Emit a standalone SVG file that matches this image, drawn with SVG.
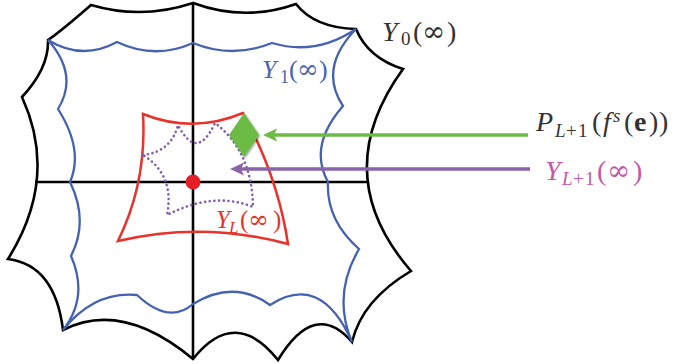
<svg xmlns="http://www.w3.org/2000/svg" width="676" height="364" viewBox="0 0 676 364">
<defs>
<style>
.outline{fill:none;stroke-linejoin:miter;stroke-linecap:round}
.y0{stroke:#000;stroke-width:2.6}
.y1{stroke:#4562b0;stroke-width:2.3}
.yl{stroke:#e8322b;stroke-width:2.5}
.ylp{stroke:#7f5cae;stroke-width:2.6;stroke-dasharray:0.1 4.6;stroke-linecap:round}
.axis{stroke:#000;stroke-width:2.6;fill:none}
.lbl{font-family:"Liberation Serif","DejaVu Serif",serif;font-size:28px}
.it{font-style:italic}
.inf{font-family:"DejaVu Serif","Liberation Serif",serif}
.arrow{fill:none;stroke-width:3.5}
</style>
<marker id="ahG" markerUnits="userSpaceOnUse" markerWidth="16" markerHeight="14" refX="7" refY="6.5" orient="auto" overflow="visible">
<path d="M0,0 L14,6.5 L0,13 L3,6.5 Z" fill="#6cbb45"/>
</marker>
<marker id="ahP" markerUnits="userSpaceOnUse" markerWidth="16" markerHeight="14" refX="7" refY="6.5" orient="auto" overflow="visible">
<path d="M0,0 L14,6.5 L0,13 L3,6.5 Z" fill="#8b63ad"/>
</marker>
<filter id="sh" x="-30%" y="-30%" width="160%" height="160%">
<feGaussianBlur in="SourceAlpha" stdDeviation="1.2"/>
<feOffset dx="0.5" dy="0.8" result="b"/>
<feComponentTransfer><feFuncA type="linear" slope="0.45"/></feComponentTransfer>
<feMerge><feMergeNode/><feMergeNode in="SourceGraphic"/></feMerge>
</filter>
</defs>
<rect width="676" height="364" fill="#fff"/>

<g id="axes">
<line class="axis" x1="35" y1="182" x2="368" y2="182"/>
<line class="axis" x1="193" y1="3" x2="193" y2="359"/>
</g>

<g id="Y0">
<path class="outline y0" d="M91,5 Q142,20 193,3 Q245,22 296,4 Q315,28 356,29 Q368,58 403,69 Q327,174 411,271 Q362,300 352,342 Q315,299 278,360 Q235,306 193,359 Q122,300 63,330 Q55,265 8,259 Q59,178 22,97 Q49,68 48,40 Q60,32 91,5 Z"/>
</g>

<g id="Y1">
<path class="outline y1" d="M48,40 Q82,61 117,42 Q155,60 193,43 Q232,59 272,43 Q316,56 356,29 Q318,68 343,106 Q308,146 328,182 Q326,220 359,249 Q332,295 352,342 Q321,272 270,305 Q234,279 193,304 Q169,325 137,295 Q94,291 63,330 Q89,297 71,256 Q89,221 70,182 Q84,150 58,109 Q79,75 48,40 Z"/>
</g>

<g id="YL">
<path class="outline yl" d="M143,114 Q193,134 243,113 Q278,177 288,244 Q203,221 118,241 Q147,182 143,114 Z"/>
</g>

<g id="YL1">
<path class="outline ylp" d="M143,155 Q171,152 178,125 Q197,162 215,123 Q252,151 253,207 Q214,191 167,215 Q175,175 143,155 Z"/>
</g>

<g id="P">
<path d="M244,113 L259,135 L244,157 L229,135 Z" fill="#6cbb45" filter="url(#sh)"/>
</g>

<g id="origin">
<circle cx="193" cy="182" r="7.5" fill="#e41f26"/>
</g>

<g id="connectors">
<line class="arrow" x1="528" y1="135" x2="270" y2="135" stroke="#6cbb45" marker-end="url(#ahG)"/>
<line class="arrow" x1="530" y1="169" x2="237" y2="169" stroke="#8b63ad" marker-end="url(#ahP)"/>
</g>

<g id="labels">
<text class="lbl" fill="#333" y="41"><tspan class="it" x="382">Y</tspan><tspan x="401" y="45" font-size="19">0</tspan><tspan x="413" y="41">(</tspan><tspan class="inf" x="422">∞</tspan><tspan x="447">)</tspan></text>
<text class="lbl" fill="#4a64ae" y="78"><tspan class="it" x="262" style="font-size:26px">Y</tspan><tspan x="280" y="83" style="font-size:18px">1</tspan><tspan x="289" y="78" style="font-size:26px">(</tspan><tspan class="inf" x="297" style="font-size:26px">∞</tspan><tspan x="319" style="font-size:26px">)</tspan></text>
<text class="lbl" fill="#e8332a" y="228"><tspan class="it" x="216" style="font-size:25px">Y</tspan><tspan class="it" x="229" y="233" style="font-size:17px">L</tspan><tspan x="240" y="228" style="font-size:25px">(</tspan><tspan class="inf" x="248" style="font-size:25px">∞</tspan><tspan x="273" style="font-size:25px">)</tspan></text>
<text class="lbl" fill="#333" y="131"><tspan class="it" x="536">P</tspan><tspan class="it" x="555" y="137" style="font-size:19px">L</tspan><tspan x="566" style="font-size:19px">+</tspan><tspan x="578" style="font-size:19px">1</tspan><tspan x="592" y="131">(</tspan><tspan class="it" x="603">f</tspan><tspan class="it" x="613" y="122" style="font-size:19px">s</tspan><tspan x="624" y="131">(</tspan><tspan x="634" font-weight="bold">e</tspan><tspan x="649">)</tspan><tspan x="659">)</tspan></text>
<text class="lbl" fill="#c455a8" y="180"><tspan class="it" x="545">Y</tspan><tspan class="it" x="562" y="185" style="font-size:19px">L</tspan><tspan x="573" style="font-size:19px">+</tspan><tspan x="585" style="font-size:19px">1</tspan><tspan x="597" y="180">(</tspan><tspan class="inf" x="607">∞</tspan><tspan x="633">)</tspan></text>
</g>
</svg>
